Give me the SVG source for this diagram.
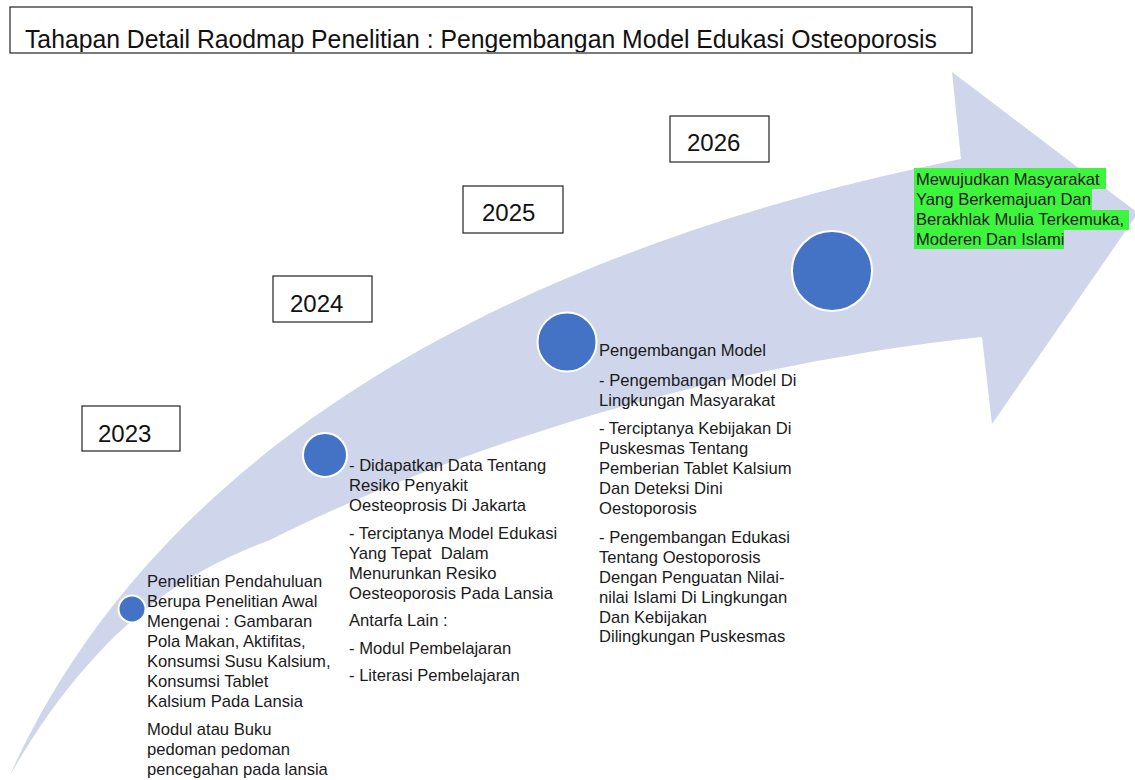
<svg xmlns="http://www.w3.org/2000/svg" width="1135" height="780" viewBox="0 0 1135 780">
<defs>
<style>
.box{fill:#fff;stroke:#222;stroke-width:1.2}
.yr{font-family:"Liberation Sans",Arial,sans-serif;font-size:24px;fill:#111}
.t{font-family:"Liberation Sans",Arial,sans-serif;font-size:16.6px;fill:#1a1a1a}
.dot{fill:#4472C4;stroke:#fff;stroke-width:2}
.hl{fill:#3EF53E}
</style>
<clipPath id="titleClip"><rect x="10" y="7" width="962" height="45"/></clipPath>
</defs>
<rect width="1135" height="780" fill="#fff"/>
<g id="arrow">
<path d="M10,775 C170,420 561,240 961,159 L952,72 L1138,213 L992,424 L982,337 C732,363 470,440 270,540 C190,570 100,620 10,775 Z" fill="#CFD5EA"/>
</g>
<g id="connectors"/>
<g id="title">
<rect class="box" x="10" y="7" width="962" height="46"/>
<text clip-path="url(#titleClip)" x="25" y="48" font-family="Liberation Sans, Arial, sans-serif" font-size="25" fill="#111" textLength="912" lengthAdjust="spacingAndGlyphs">Tahapan Detail Raodmap Penelitian : Pengembangan Model Edukasi Osteoporosis</text>
</g>
<g id="year2023"><rect class="box" x="82" y="406" width="98" height="45"/><text class="yr" x="98" y="442">2023</text></g>
<g id="year2024"><rect class="box" x="273" y="276" width="99" height="46"/><text class="yr" x="290" y="312">2024</text></g>
<g id="year2025"><rect class="box" x="463" y="186" width="100" height="47"/><text class="yr" x="482" y="221">2025</text></g>
<g id="year2026"><rect class="box" x="670" y="116" width="99" height="46"/><text class="yr" x="687" y="151">2026</text></g>
<g id="node2023">
<circle class="dot" cx="132" cy="609" r="13.5"/>
<text class="t" x="147" y="587">Penelitian Pendahuluan</text>
<text class="t" x="147" y="607">Berupa Penelitian Awal</text>
<text class="t" x="147" y="627">Mengenai : Gambaran</text>
<text class="t" x="147" y="647">Pola Makan, Aktifitas,</text>
<text class="t" x="147" y="667">Konsumsi Susu Kalsium,</text>
<text class="t" x="147" y="687">Konsumsi Tablet</text>
<text class="t" x="147" y="707">Kalsium Pada Lansia</text>
<text class="t" x="147" y="735">Modul atau Buku</text>
<text class="t" x="147" y="755">pedoman pedoman</text>
<text class="t" x="147" y="775">pencegahan pada lansia</text>
</g>
<g id="node2024">
<circle class="dot" cx="325" cy="455" r="22"/>
<text class="t" x="349" y="471">- Didapatkan Data Tentang</text>
<text class="t" x="349" y="491">Resiko Penyakit</text>
<text class="t" x="349" y="511">Oesteoprosis Di Jakarta</text>
<text class="t" x="349" y="539">- Terciptanya Model Edukasi</text>
<text class="t" x="349" y="559" xml:space="preserve">Yang Tepat  Dalam</text>
<text class="t" x="349" y="579">Menurunkan Resiko</text>
<text class="t" x="349" y="599">Oesteoporosis Pada Lansia</text>
<text class="t" x="349" y="626">Antarfa Lain :</text>
<text class="t" x="349" y="654">- Modul Pembelajaran</text>
<text class="t" x="349" y="681">- Literasi Pembelajaran</text>
</g>
<g id="node2025">
<circle class="dot" cx="567" cy="342" r="29.5"/>
<text class="t" x="599" y="356">Pengembangan Model</text>
<text class="t" x="599" y="386">- Pengembangan Model Di</text>
<text class="t" x="599" y="406">Lingkungan Masyarakat</text>
<text class="t" x="599" y="434">- Terciptanya Kebijakan Di</text>
<text class="t" x="599" y="454">Puskesmas Tentang</text>
<text class="t" x="599" y="474">Pemberian Tablet Kalsium</text>
<text class="t" x="599" y="494">Dan Deteksi Dini</text>
<text class="t" x="599" y="514">Oestoporosis</text>
<text class="t" x="599" y="543">- Pengembangan Edukasi</text>
<text class="t" x="599" y="563">Tentang Oestoporosis</text>
<text class="t" x="599" y="583">Dengan Penguatan Nilai-</text>
<text class="t" x="599" y="603">nilai Islami Di Lingkungan</text>
<text class="t" x="599" y="623">Dan Kebijakan</text>
<text class="t" x="599" y="642">Dilingkungan Puskesmas</text>
</g>
<g id="node2026">
<circle class="dot" cx="832" cy="271" r="40"/>
<rect class="hl" x="914" y="168" width="192" height="21"/>
<rect class="hl" x="914" y="189" width="178" height="21"/>
<rect class="hl" x="914" y="210" width="215" height="20"/>
<rect class="hl" x="914" y="230" width="150" height="19"/>
<text class="t" x="916" y="185">Mewujudkan Masyarakat</text>
<text class="t" x="916" y="205">Yang Berkemajuan Dan</text>
<text class="t" x="916" y="225">Berakhlak Mulia Terkemuka,</text>
<text class="t" x="916" y="245">Moderen Dan Islami</text>
</g>
</svg>
